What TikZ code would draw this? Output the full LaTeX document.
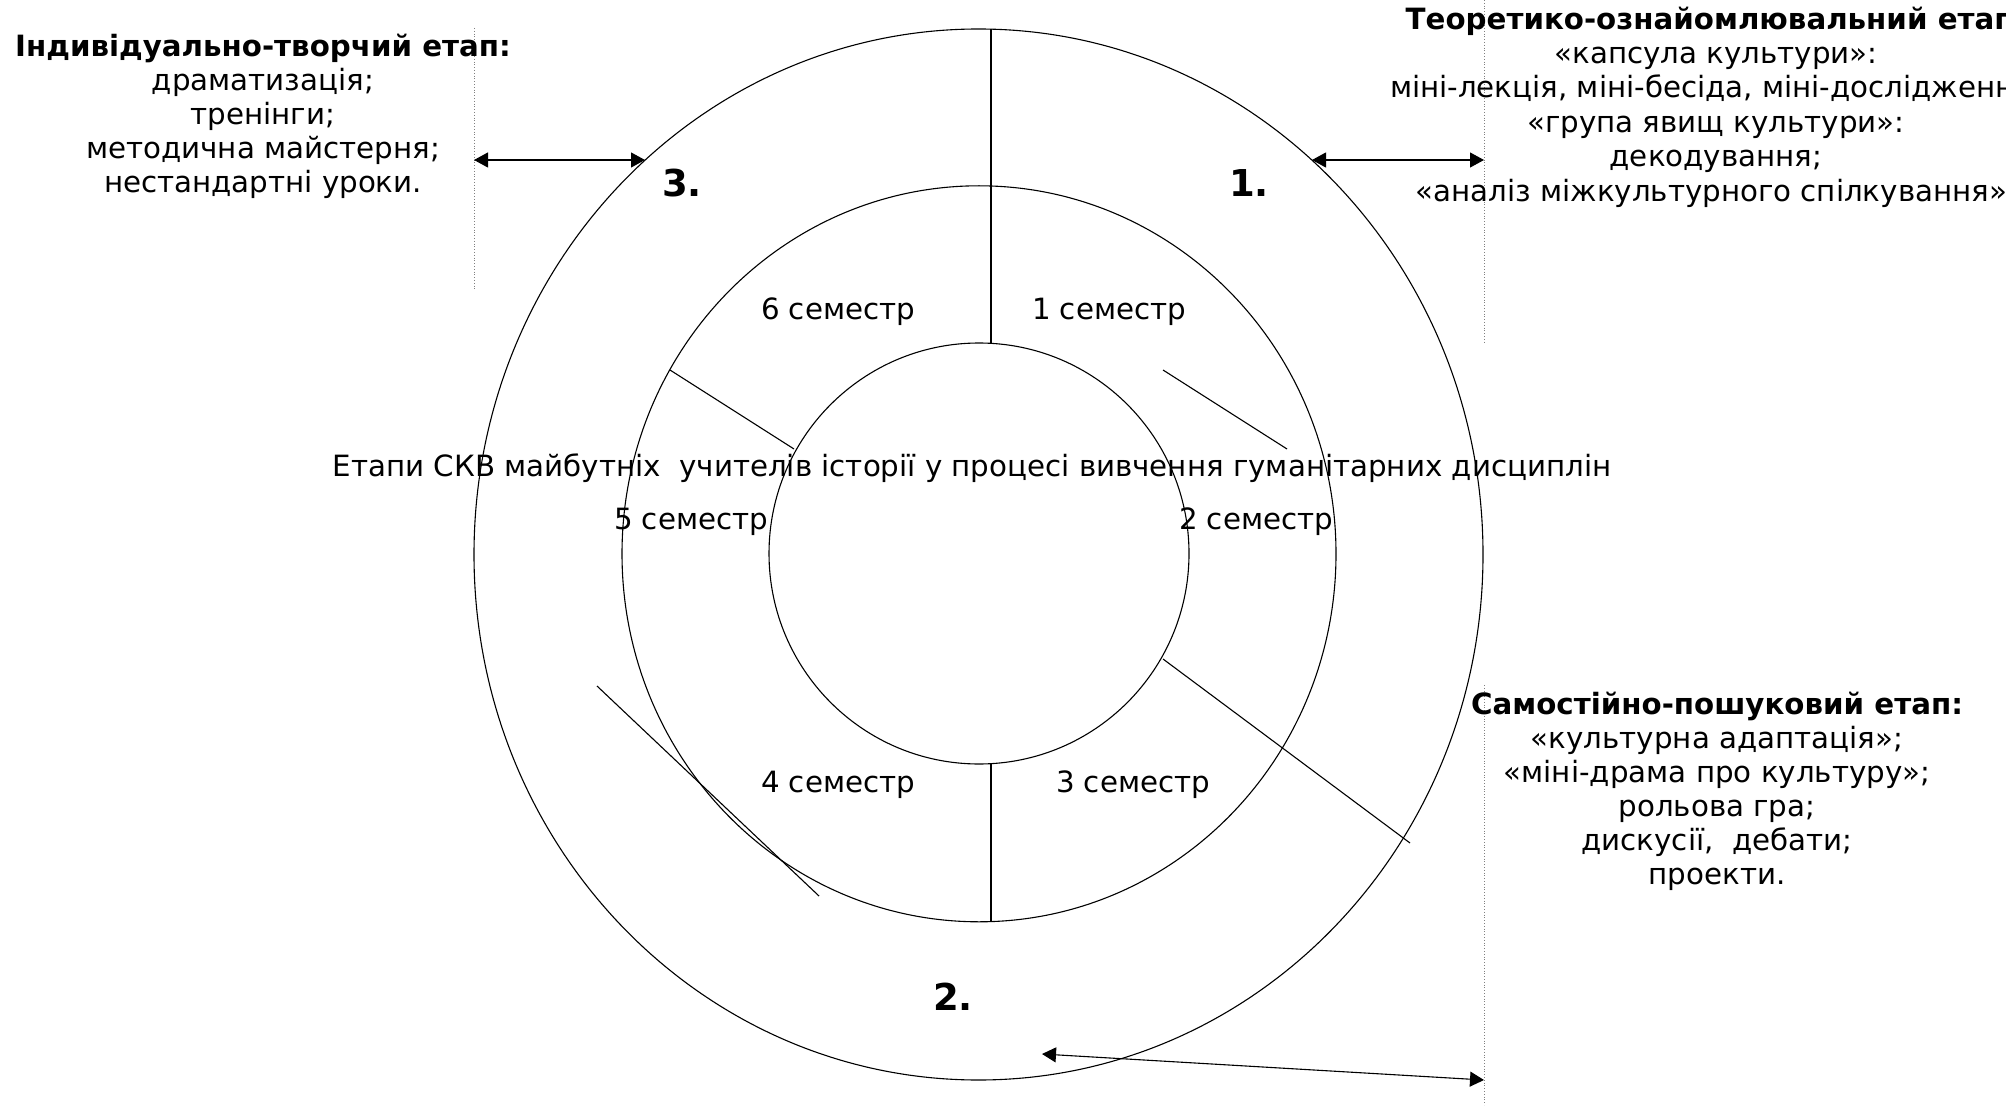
\documentclass[tikz,border=0pt]{standalone}
\usepackage{fontspec}
\setmainfont{DejaVu Sans}
\usetikzlibrary{arrows.meta}
\begin{document}
\begin{tikzpicture}[x=0.5pt,y=-0.5pt,
  ring/.style={line width=0.55pt},
  seg/.style={line width=0.55pt},
  guide/.style={densely dotted, gray, line width=0.4pt},
  dbl/.style={{Triangle[length=7pt,width=7.5pt]}-{Triangle[length=7pt,width=7.5pt]}, line width=0.55pt},
  txt/.style={font=\fontsize{14.65}{17}\selectfont, inner sep=0pt, align=center},
  num/.style={font=\fontsize{18.5}{20}\selectfont\bfseries, inner sep=0pt}]
\useasboundingbox (0,0) rectangle (2006,1112);
% rings
\draw[ring] (978.5,554.5) ellipse [x radius=504.5, y radius=525.5];
\draw[ring] (979,553.8) ellipse [x radius=357, y radius=368];
\draw[ring] (979,553.5) ellipse [x radius=210, y radius=210.5];
% dividing lines
\draw[seg] (991,29) -- (991,344);
\draw[seg] (991,764) -- (991,921);
\draw[seg] (670,370) -- (794,449);
\draw[seg] (1163,370) -- (1287,449);
\draw[seg] (1163,659) -- (1410,843);
\draw[seg] (597,686) -- (819,896);
% guide lines
\draw[guide] (474,28) -- (474,290);
\draw[guide] (1484,0) -- (1484,343);
\draw[guide] (1484,685) -- (1484,1105);
% arrows
\coordinate (aL1) at (474,160);
\coordinate (aL2) at (645,160);
\coordinate (aR1) at (1312,160);
\coordinate (aR2) at (1484,160);
\coordinate (aB1) at (1042,1054);
\coordinate (aB2) at (1484,1080);
\draw[dbl] (aL1) -- (aL2);
\draw[dbl] (aR1) -- (aR2);
\draw[dbl] (aB1) -- (aB2);
% numbers
\node[num] (n3) at (682,183) {3.};
\node[num] (n1) at (1249,183) {1.};
\node[num] (n2) at (953,997) {2.};
% semesters
\node[txt] (s6) at (838,311.5) {6 семестр};
\node[txt] (s1) at (1109,311.5) {1 семестр};
\node[txt] (s5) at (691,521.5) {5 семестр};
\node[txt] (s2) at (1256,521.5) {2 семестр};
\node[txt] (s4) at (838,785) {4 семестр};
\node[txt] (s3) at (1133,785) {3 семестр};
\node[txt] (title) at (972,468.5) {Етапи СКВ майбутніх\ \ учителів історії у процесі вивчення гуманітарних дисциплін};
% text blocks
\node[txt] (bL) at (263,116.5) {\textbf{Індивідуально-творчий етап:}\\драматизація;\\тренінги;\\методична майстерня;\\нестандартні уроки.};
\node[txt,font=\fontsize{14.65}{17.2}\selectfont] (bT) at (1716,107) {\textbf{Теоретико-ознайомлювальний етап:}\\«капсула культури»:\\міні-лекція, міні-бесіда, міні-дослідження;\\«група явищ культури»:\\декодування;\\«аналіз міжкультурного спілкування».};
\node[txt] (bB) at (1717,791) {\textbf{Самостійно-пошуковий етап:}\\«культурна адаптація»;\\«міні-драма про культуру»;\\рольова гра;\\дискусії,\ \ дебати;\\проекти.};
\end{tikzpicture}
\end{document}
